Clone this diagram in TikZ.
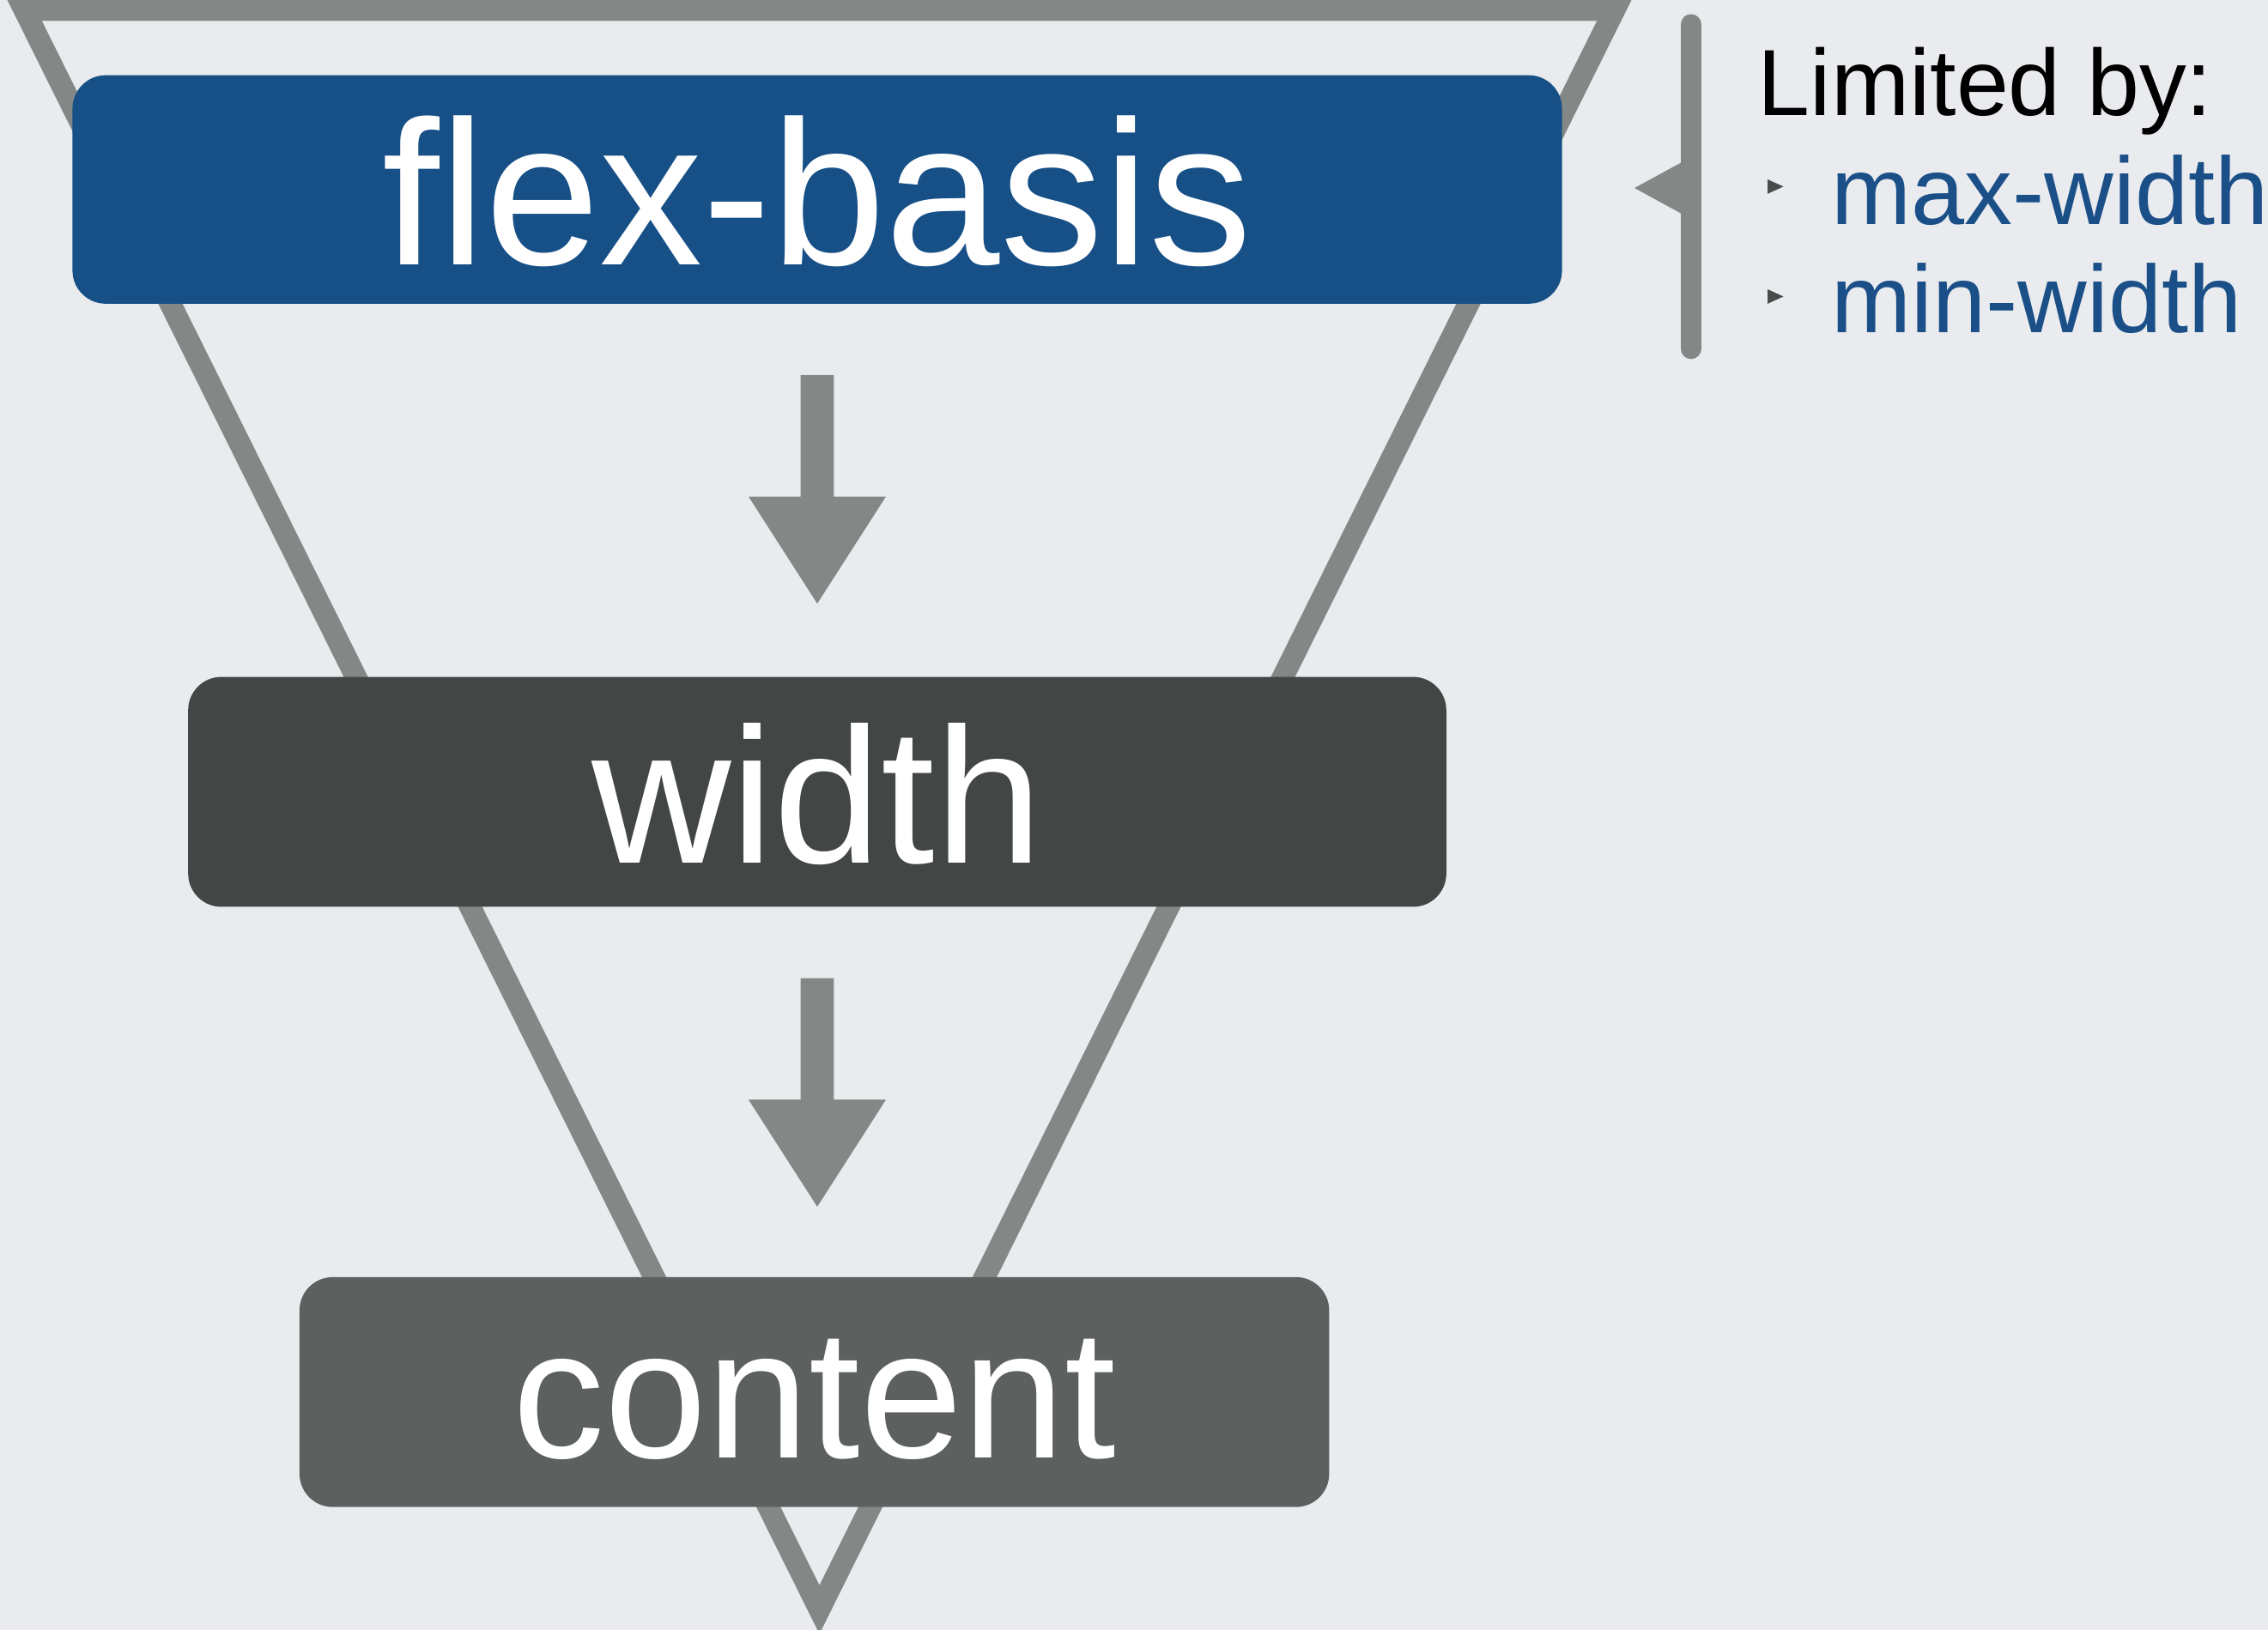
\documentclass[tikz,border=0pt]{standalone}
\usepackage{fontspec}
\setmainfont{Liberation Sans}
\usetikzlibrary{calc}
\definecolor{bg}{HTML}{E9EBEE}
\definecolor{tri}{HTML}{838886}
\definecolor{fbblue}{HTML}{174F87}
\definecolor{wddark}{HTML}{424645}
\definecolor{ctgray}{HTML}{5C605F}
\definecolor{txtblue}{HTML}{1B4F88}
\definecolor{bulletc}{HTML}{4A4C4C}
\newcommand\blockarr[1]{%
  \fill[tri] ($(#1)+(-11.5,49)$) -- ($(#1)+(-11.5,133)$) -- ($(#1)+(-47.5,133)$)
    -- ($(#1)+(0,207)$) -- ($(#1)+(47.5,133)$) -- ($(#1)+(11.5,133)$)
    -- ($(#1)+(11.5,49)$) -- cycle;}
\begin{document}
\begin{tikzpicture}[x=0.02cm,y=-0.02cm,
  box/.style={rounded corners=0.46cm, inner sep=0pt, text=white, text depth=0pt},
  side/.style={anchor=base west, inner sep=0pt, font=\fontsize{37}{42}\selectfont},
  limit/.style={anchor=base west, inner sep=0pt, font=\fontsize{37.7}{42}\selectfont, text=txtblue}]
\fill[bg] (0,0) rectangle (1568,1127);
\useasboundingbox (0,0) rectangle (1568,1127);
% funnel
\draw[tri, line width=0.3cm, line join=miter] (16.9,7) -- (1116.1,7) -- (566.5,1112.9) -- cycle;
% boxes
\node[box, fill=fbblue, minimum width=20.6cm, minimum height=3.16cm,
  font=\fontsize{81}{90}\selectfont, text height=59pt] (fb) at (565,131) {flex-basis};
\node[box, fill=wddark, minimum width=17.4cm, minimum height=3.18cm,
  font=\fontsize{76}{85}\selectfont, text height=56.3pt] (wd) at (565,547.5) {width};
\node[box, fill=ctgray, minimum width=14.24cm, minimum height=3.18cm,
  font=\fontsize{72.3}{82}\selectfont, text height=51.8pt] (ct) at (563,962.5) {content};
% arrows
\blockarr{fb.south}
\blockarr{wd.south}
% bracket
\draw[tri, line width=0.29cm, line cap=round] (1169,17) -- (1169,241);
\fill[tri] (1163,112) -- (1130,130) -- (1163,148) -- cycle;
% side text
\node[side] (lim) at (1215,80) {Limited by:};
\node[limit] (maxw) at (1266,155) {max-width};
\node[limit] (minw) at (1266,230) {min-width};
\fill[bulletc] (1222,124) -- (1233,129) -- (1222,134) -- cycle;
\fill[bulletc] (1222,200) -- (1233,205) -- (1222,210) -- cycle;
\end{tikzpicture}
\end{document}
